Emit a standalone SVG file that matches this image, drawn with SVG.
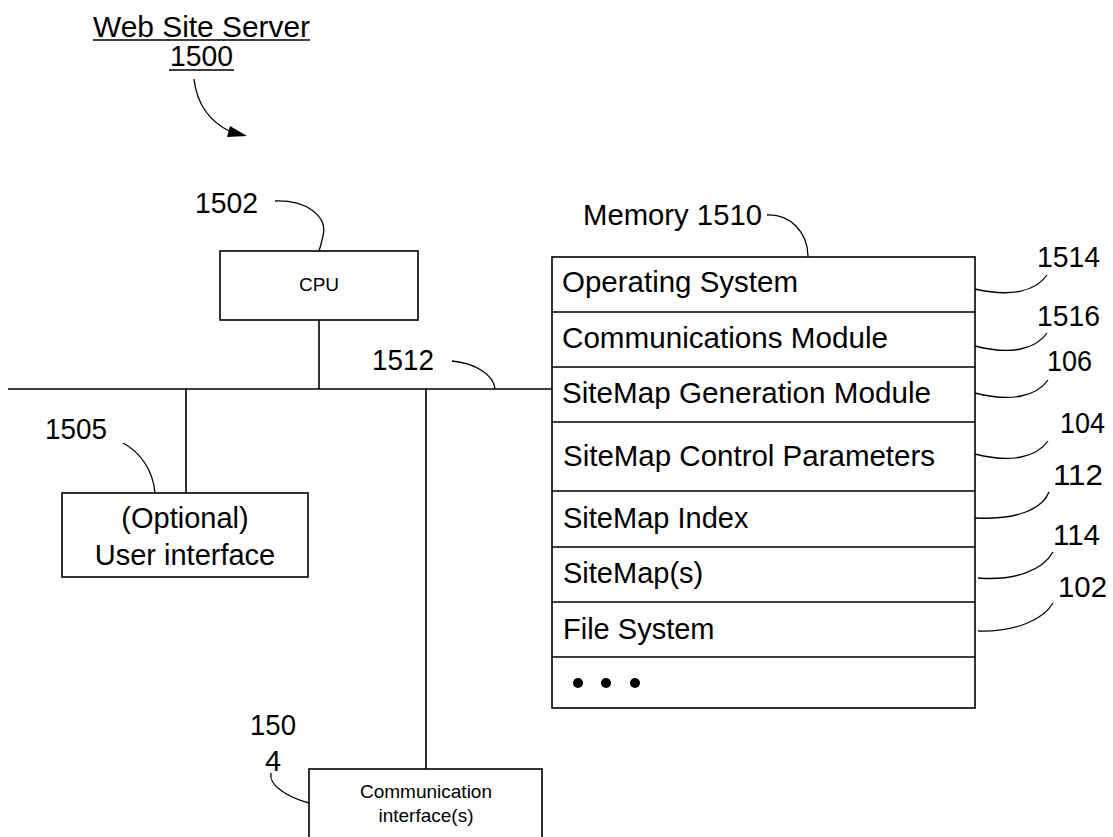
<svg xmlns="http://www.w3.org/2000/svg" width="1113" height="837" viewBox="0 0 1113 837">
<style>
text{font-family:"Liberation Sans",Arial,sans-serif;fill:#000}
.big{font-size:29px}
.sm{font-size:19px}
.box{fill:#fff;stroke:#000;stroke-width:1.6}
.ln{fill:none;stroke:#000;stroke-width:1.6}
.ld{fill:none;stroke:#000;stroke-width:1.3}
</style>
<rect width="1113" height="837" fill="#fff"/>
<g id="title">
<text class="big" x="93" y="37" textLength="217" lengthAdjust="spacingAndGlyphs">Web Site Server</text>
<line class="ln" x1="93" y1="40" x2="310" y2="40"/>
<text class="big" x="170" y="66" textLength="63" lengthAdjust="spacingAndGlyphs">1500</text>
<line class="ln" x1="169" y1="70" x2="234" y2="70"/>
<path class="ld" d="M194,79 C197,105 210,122 231,132"/>
<polygon points="230,126 247,136 227,137" fill="#000"/>
</g>
<g id="connectors">
<line class="ln" x1="8" y1="389" x2="552" y2="389"/>
<line class="ln" x1="319" y1="320" x2="319" y2="389"/>
<line class="ln" x1="186" y1="389" x2="186" y2="493"/>
<line class="ln" x1="426" y1="389" x2="426" y2="769"/>
</g>
<g id="cpu">
<rect class="box" x="220" y="251" width="198" height="69"/>
<text class="sm" x="319" y="291" text-anchor="middle">CPU</text>
<text class="big" x="195" y="213" textLength="63" lengthAdjust="spacingAndGlyphs">1502</text>
<path class="ld" d="M275,201 C305,200 328,215 323,236 Q321,245 319,251"/>
</g>
<g id="bus">
<text class="big" x="372" y="370" textLength="62" lengthAdjust="spacingAndGlyphs">1512</text>
<path class="ld" d="M452,361 C475,363 494,375 495,389"/>
</g>
<g id="ui">
<rect class="box" x="62" y="493" width="246" height="84"/>
<text class="big" x="185" y="528" text-anchor="middle">(Optional)</text>
<text class="big" x="185" y="565" text-anchor="middle">User interface</text>
<text class="big" x="45" y="439" textLength="62" lengthAdjust="spacingAndGlyphs">1505</text>
<path class="ld" d="M123,443 C140,452 153,470 155,493"/>
</g>
<g id="comm">
<rect class="box" x="309" y="769" width="233" height="100"/>
<text class="sm" x="426" y="798" text-anchor="middle">Communication</text>
<text class="sm" x="426" y="822" text-anchor="middle">interface(s)</text>
<text class="big" x="250" y="735" textLength="46" lengthAdjust="spacingAndGlyphs">150</text>
<text class="big" x="265" y="771">4</text>
<path class="ld" d="M271,773 C268,786 290,798 309,803"/>
</g>
<g id="memory">
<rect class="box" x="552" y="257" width="423" height="451"/>
<line class="ln" x1="552" y1="312" x2="975" y2="312"/>
<line class="ln" x1="552" y1="367" x2="975" y2="367"/>
<line class="ln" x1="552" y1="422" x2="975" y2="422"/>
<line class="ln" x1="552" y1="491" x2="975" y2="491"/>
<line class="ln" x1="552" y1="547" x2="975" y2="547"/>
<line class="ln" x1="552" y1="602" x2="975" y2="602"/>
<line class="ln" x1="552" y1="657" x2="975" y2="657"/>
<text class="big" x="583" y="225" textLength="179" lengthAdjust="spacingAndGlyphs">Memory 1510</text>
<path class="ld" d="M767,215 C790,214 808,232 808,257"/>
<text class="big" x="562" y="292" textLength="236" lengthAdjust="spacingAndGlyphs">Operating System</text>
<text class="big" x="562" y="348" textLength="326" lengthAdjust="spacingAndGlyphs">Communications Module</text>
<text class="big" x="562" y="403" textLength="369" lengthAdjust="spacingAndGlyphs">SiteMap Generation Module</text>
<text class="big" x="563" y="466" textLength="372" lengthAdjust="spacingAndGlyphs">SiteMap Control Parameters</text>
<text class="big" x="563" y="528">SiteMap Index</text>
<text class="big" x="563" y="583">SiteMap(s)</text>
<text class="big" x="563" y="639">File System</text>
<circle cx="578" cy="683" r="5"/>
<circle cx="606" cy="683" r="5"/>
<circle cx="635" cy="683" r="5"/>
</g>
<g id="labels">
<text class="big" x="1037" y="267" textLength="63" lengthAdjust="spacingAndGlyphs">1514</text>
<path class="ld" d="M1047,275 C1035,292 1010,297 975,289"/>
<text class="big" x="1037" y="326" textLength="63" lengthAdjust="spacingAndGlyphs">1516</text>
<path class="ld" d="M1047,333 C1035,350 1010,355 975,346"/>
<text class="big" x="1047" y="371" textLength="45" lengthAdjust="spacingAndGlyphs">106</text>
<path class="ld" d="M1048,380 C1036,397 1010,402 975,393"/>
<text class="big" x="1060" y="433" textLength="45" lengthAdjust="spacingAndGlyphs">104</text>
<path class="ld" d="M1048,441 C1036,458 1010,463 975,454"/>
<text class="big" x="1053" y="485" textLength="50" lengthAdjust="spacingAndGlyphs">112</text>
<path class="ld" d="M1049,492 C1042,510 1015,520 975,518"/>
<text class="big" x="1053" y="545" textLength="47" lengthAdjust="spacingAndGlyphs">114</text>
<path class="ld" d="M1053,552 C1043,570 1015,581 978,578"/>
<text class="big" x="1058" y="597" textLength="49" lengthAdjust="spacingAndGlyphs">102</text>
<path class="ld" d="M1053,603 C1043,620 1015,632 978,631"/>
</g>
</svg>
